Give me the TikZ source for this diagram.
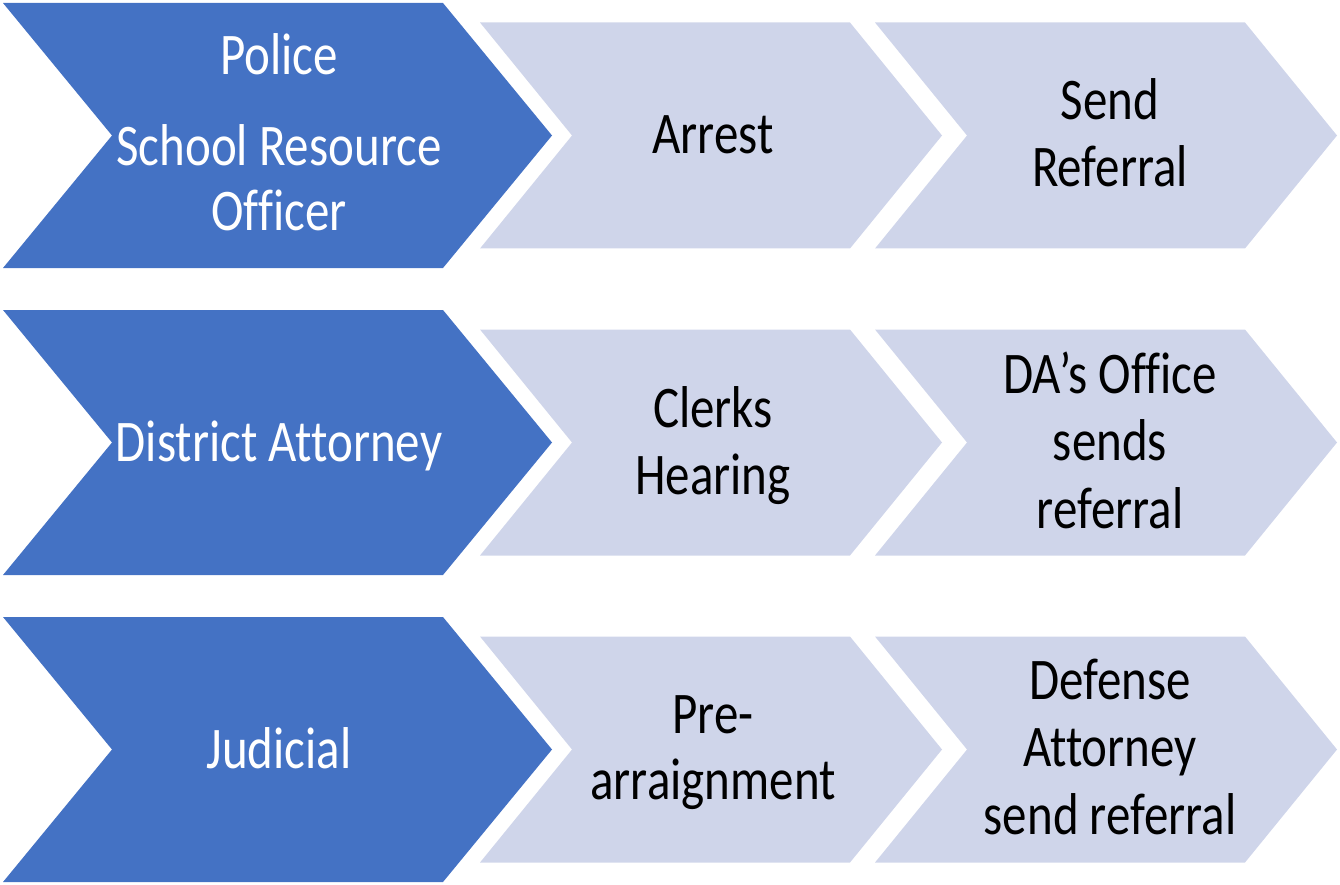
\documentclass[tikz,border=0pt]{standalone}
\usepackage{fontspec}
\setmainfont{Carlito}[FakeStretch=0.83, Ligatures=NoCommon]
\definecolor{darkblue}{HTML}{4472C4}
\definecolor{lightblue}{HTML}{CFD5EA}
\tikzset{
  wtxt/.style={anchor=base, inner sep=0pt, text=white, font=\fontsize{59}{67}\selectfont},
  btxt/.style={anchor=base, inner sep=0pt, text=black, font=\fontsize{59}{67}\selectfont},
}
\begin{document}
\begin{tikzpicture}[x=1pt, y=-1pt]
\useasboundingbox (0,0) rectangle (1340,885);
% rows
\foreach \yc in {135.5, 442.5, 749.5} {
  \fill[darkblue] (3,\yc-132.5) -- (443,\yc-132.5) -- (552,\yc) -- (443,\yc+132.5) -- (3,\yc+132.5) -- (112,\yc) -- cycle;
  \foreach \xo in {480, 875} {
    \fill[lightblue] (\xo,\yc-113) -- (\xo+370,\yc-113) -- (\xo+462,\yc) -- (\xo+370,\yc+113) -- (\xo,\yc+113) -- (\xo+92,\yc) -- cycle;
  }
}
% Row 1
\node[wtxt] (p1) at (279,75) {Police};
\node[wtxt] (p2) at (279,166) {School Resource};
\node[wtxt] (p3) at (279,231) {Officer};
\node[btxt] (a1) at (713,154) {Arrest};
\node[btxt] (s1) at (1110,120) {Send};
\node[btxt] (s2) at (1110,187) {Referral};
% Row 2
\node[wtxt] (d1) at (279,461) {District Attorney};
\node[btxt] (c1) at (713,427) {Clerks};
\node[btxt] (c2) at (713,494) {Hearing};
\node[btxt] (o1) at (1110,393) {DA’s Office};
\node[btxt] (o2) at (1110,460) {sends};
\node[btxt] (o3) at (1110,528) {referral};
% Row 3
\node[wtxt] (j1) at (279,768) {Judicial};
\node[btxt] (r1) at (713,733) {Pre-};
\node[btxt] (r2) at (713,799) {arraignment};
\node[btxt] (f1) at (1110,699) {Defense};
\node[btxt] (f2) at (1110,766) {Attorney};
\node[btxt] (f3) at (1110,834) {send referral};
\end{tikzpicture}
\end{document}
